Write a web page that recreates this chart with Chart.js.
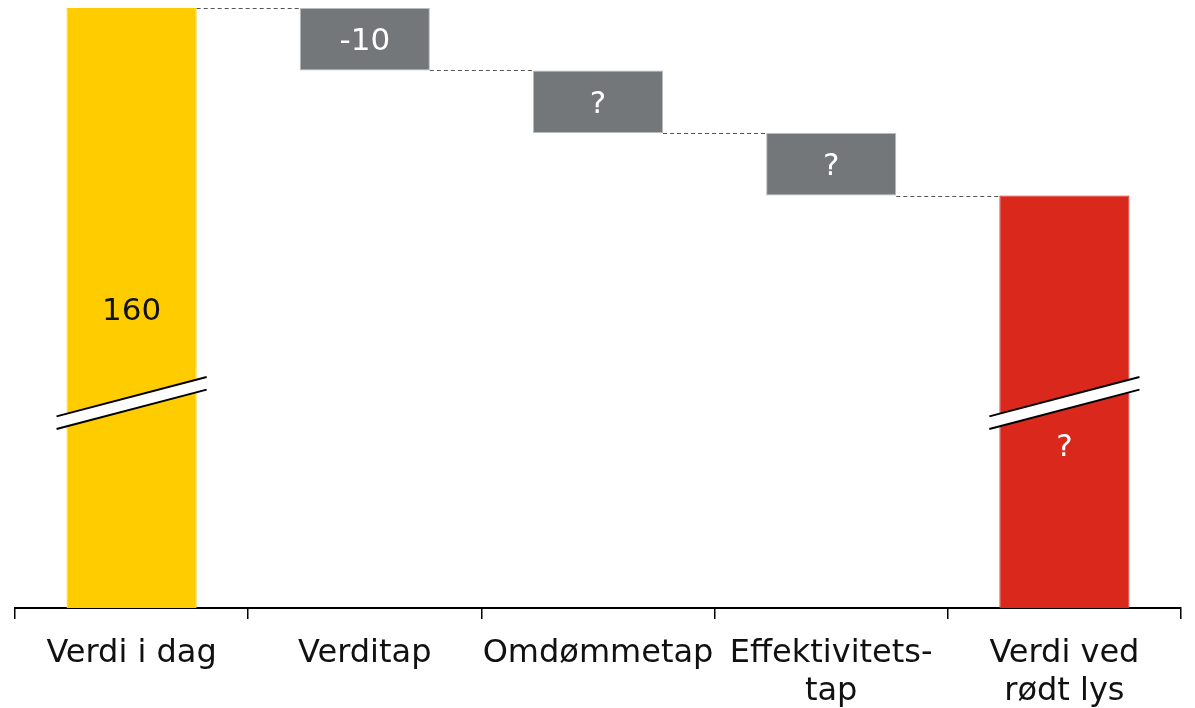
<!DOCTYPE html>
<html><head><meta charset="utf-8">
<script src="https://cdn.jsdelivr.net/npm/chart.js@4"></script>
<style>html,body{margin:0;padding:0;background:#fff}#wrap{width:1195px;height:708px;position:relative}</style>
</head><body><div id="wrap"><canvas id="c"></canvas></div>
<script>
// ---- data ----
const categories = [['Verdi i dag'], ['Verditap'], ['Omdømmetap'], ['Effektivitets-', 'tap'], ['Verdi ved', 'rødt lys']];
const startValue = 160;
const changes = [-10, -10, -10];          // Verditap, Omdømmetap (?), Effektivitetstap (?)
const valueLabels = ['160', '-10', '?', '?', '?'];
const axisMin = 64;                        // broken axis baseline
const axisMax = 160;
const breakValue = 96.8;                   // where the axis break is drawn

// ---- build floating ranges ----
const ranges = [];
const levels = [];
let run = startValue;
ranges.push([axisMin, startValue]); levels.push(run);
changes.forEach(c => { const nxt = run + c; ranges.push([Math.min(run, nxt), Math.max(run, nxt)]); run = nxt; levels.push(run); });
ranges.push([axisMin, run]); levels.push(run);

const colors = ['#FFCC00', '#74777A', '#74777A', '#74777A', '#DA291C'];
const borderColors = ['#FFCC00', '#B9BBBD', '#B9BBBD', '#B9BBBD', '#DA291C'];
const labelColors = ['#111111', '#FFFFFF', '#FFFFFF', '#FFFFFF', '#FFFFFF'];
const labelOffsets = [4, 3, 3, 3, 46];

const decor = {
  id: 'decor',
  afterDatasetsDraw(chart) {
    const ctx = chart.ctx, meta = chart.getDatasetMeta(0), y = chart.scales.y;
    ctx.save();
    // connectors
    ctx.strokeStyle = '#555'; ctx.lineWidth = 1; ctx.setLineDash([4, 3]);
    for (let i = 0; i < meta.data.length - 1; i++) {
      const a = meta.data[i], b = meta.data[i + 1];
      const py = Math.round(y.getPixelForValue(levels[i])) + 0.5;
      ctx.beginPath();
      ctx.moveTo(a.x + a.width / 2, py);
      ctx.lineTo(b.x - b.width / 2, py);
      ctx.stroke();
    }
    ctx.setLineDash([]);
    // axis breaks
    [0, meta.data.length - 1].forEach(i => {
      const bar = meta.data[i];
      const yc = y.getPixelForValue(breakValue);
      const x0 = bar.x - bar.width / 2 - 10, x1 = bar.x + bar.width / 2 + 10;
      const dy = (x1 - x0) * 0.262 / 2, g = 6.3;
      ctx.fillStyle = '#fff';
      ctx.beginPath();
      ctx.moveTo(x0, yc - g + dy); ctx.lineTo(x1, yc - g - dy);
      ctx.lineTo(x1, yc + g - dy); ctx.lineTo(x0, yc + g + dy); ctx.closePath();
      ctx.fill();
      ctx.strokeStyle = '#000'; ctx.lineWidth = 2;
      ctx.beginPath(); ctx.moveTo(x0, yc - g + dy); ctx.lineTo(x1, yc - g - dy); ctx.stroke();
      ctx.beginPath(); ctx.moveTo(x0, yc + g + dy); ctx.lineTo(x1, yc + g - dy); ctx.stroke();
    });
    // value labels
    ctx.font = '31px "DejaVu Sans"';
    ctx.textAlign = 'center'; ctx.textBaseline = 'middle';
    meta.data.forEach((bar, i) => {
      ctx.fillStyle = labelColors[i];
      ctx.fillText(valueLabels[i], bar.x, (bar.y + bar.base) / 2 + labelOffsets[i]);
    });
    ctx.restore();
  }
};

new Chart(document.getElementById('c'), {
  type: 'bar',
  data: {
    labels: categories,
    datasets: [{
      data: ranges,
      backgroundColor: colors,
      borderColor: borderColors,
      borderWidth: 1,
      borderSkipped: false,
      barPercentage: 0.558,
      categoryPercentage: 1
    }]
  },
  options: {
    responsive: true,
    maintainAspectRatio: false,
    animation: false,
    layout: { padding: { left: 15, right: 14, top: 8, bottom: 0 } },
    plugins: { legend: { display: false }, tooltip: { enabled: false } },
    scales: {
      y: { display: false, min: axisMin, max: axisMax },
      x: {
        offset: true,
        afterFit(s) { s.height = 100; },
        grid: { offset: true, drawOnChartArea: false, drawTicks: true, tickLength: 11, color: '#000', lineWidth: 1.5 },
        border: { display: true, color: '#000', width: 2 },
        ticks: { color: '#111', font: { family: '"DejaVu Sans"', size: 32, lineHeight: 1.2 }, padding: 15, maxRotation: 0, autoSkip: false }
      }
    }
  },
  plugins: [decor]
});
</script>
</body></html>
